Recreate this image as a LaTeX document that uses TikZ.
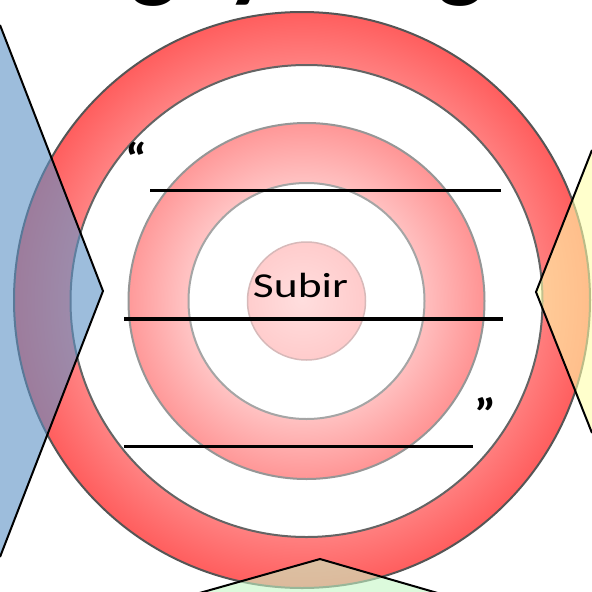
\documentclass[tikz,border=0pt]{standalone}
\usepackage{fontspec}
\setmainfont{Carlito}
\definecolor{tcA}{RGB}{255,222,222}
\definecolor{tcB}{RGB}{255,204,204}
\definecolor{tcC}{RGB}{255,194,194}
\definecolor{tcD}{RGB}{255,150,150}
\definecolor{tcE}{RGB}{255,128,128}
\definecolor{tcF}{RGB}{255,94,94}
\definecolor{chevblue}{RGB}{92,145,198}
\definecolor{chevyellow}{RGB}{255,255,170}
\definecolor{chevgreen}{RGB}{197,247,197}
\pgfdeclareradialshading{tgtshade}{\pgfpointorigin}{color(0bp)=(tcA); color(5.1bp)=(tcB); color(10.2bp)=(tcC); color(15.5bp)=(tcD); color(20.5bp)=(tcE); color(25bp)=(tcF); color(50bp)=(tcF)}
\tikzset{
  ringedge/.style={line width=2pt},
  chevfill/.style={fill opacity=0.6},
  chevline/.style={black, line width=2pt, line join=miter},
  blankline/.style={black, line width=3.5pt},
  titlefont/.style={font=\bfseries\fontsize{100}{110}\selectfont, anchor=base, inner sep=0pt},
  quotefont/.style={font=\bfseries\fontsize{44}{48}\selectfont, inner sep=0pt, xscale=1.15}
}
\begin{document}
\begin{tikzpicture}[x=1pt,y=-1pt]
\useasboundingbox (0,0) rectangle (592,592);
\clip (0,0) rectangle (592,592);
\fill[white] (0,0) rectangle (592,592);
\coordinate (c0) at (302,300);
\coordinate (c1) at (306.5,301);
% title fragments cut by top edge
\node[titlefont] (tg1) at (154,-11) {g};
\node[titlefont] (ty) at (250,-11) {y};
\node[titlefont] (tg2) at (461,-11) {g};
% target
\shade[shading=tgtshade] (c0) circle[radius=288];
\fill[white, even odd rule] (c1) circle[radius=236] (c1) circle[radius=178];
\fill[white, even odd rule] (c1) circle[radius=118] (c1) circle[radius=59];
\draw[ringedge, color={rgb,255:red,85;green,85;blue,85}] (c0) circle[radius=288];
\draw[ringedge, color={rgb,255:red,100;green,100;blue,100}] (c1) circle[radius=236];
\draw[ringedge, color={rgb,255:red,150;green,150;blue,150}] (c1) circle[radius=178];
\draw[ringedge, color={rgb,255:red,165;green,165;blue,165}] (c1) circle[radius=118];
\draw[line width=1.5pt, color={rgb,255:red,215;green,185;blue,185}] (c1) circle[radius=59];
% text and blanks
\coordinate (l1a) at (150,190.5); \coordinate (l1b) at (501,190.5);
\coordinate (l2a) at (124,319); \coordinate (l2b) at (503,319);
\coordinate (l3a) at (124,446.5); \coordinate (l3b) at (473,446.5);
\draw[blankline] (l1a) -- (l1b);
\draw[blankline] (l2a) -- (l2b);
\draw[blankline] (l3a) -- (l3b);
\node[font=\fontsize{35}{42}\selectfont, xscale=1.3, anchor=base, inner sep=0pt] (subir) at (300.5,297.5) {Subir};
\node[quotefont, anchor=north] (qopen) at (136.5,142) {“};
\node[quotefont, anchor=north] (qclose) at (486,397) {”};
% chevrons
\coordinate (bl1) at (0,25); \coordinate (bltip) at (103,291); \coordinate (bl2) at (0,557);
\fill[chevfill, chevblue] (bl1) -- (bltip) -- (bl2) -- cycle;
\draw[chevline] (bl1) -- (bltip) -- (bl2);
\coordinate (yr1) at (592,150); \coordinate (yrtip) at (536,292); \coordinate (yr2) at (592,433);
\fill[chevfill, chevyellow] (yr1) -- (yrtip) -- (yr2) -- cycle;
\draw[chevline] (yr1) -- (yrtip) -- (yr2);
\coordinate (gb1) at (196,594); \coordinate (gbtip) at (320,559); \coordinate (gb2) at (441,594);
\fill[chevfill, chevgreen] (gb1) -- (gbtip) -- (gb2) -- cycle;
\draw[chevline] (gb1) -- (gbtip) -- (gb2);
\end{tikzpicture}
\end{document}
